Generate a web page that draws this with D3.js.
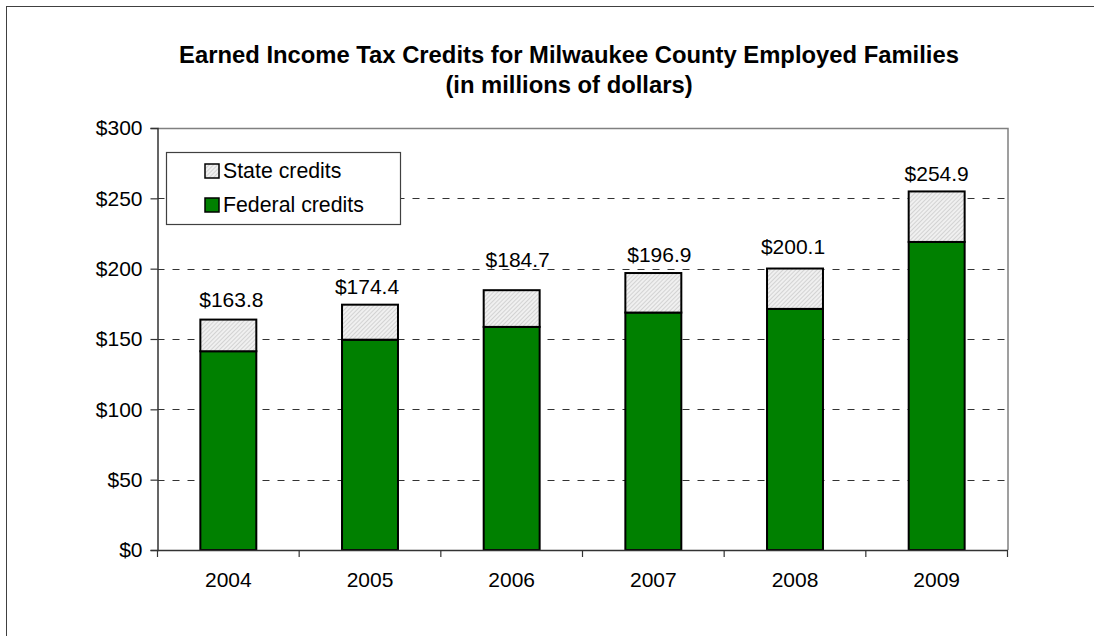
<!DOCTYPE html>
<html>
<head>
<meta charset="utf-8">
<script src="https://cdn.jsdelivr.net/npm/d3@7"></script>
<style>
  html, body { margin: 0; padding: 0; background: #fff; }
  svg { display: block; font-family: "Liberation Sans", Arial, sans-serif; }
</style>
</head>
<body>
<svg id="chart" width="1094" height="636"></svg>
<script>
// ---- Data ----
const years = ["2004", "2005", "2006", "2007", "2008", "2009"];
const federalCredits = [141.3, 149.5, 158.6, 168.8, 171.4, 219.0];
const totalCredits = [163.8, 174.4, 184.7, 196.9, 200.1, 254.9];
const stateCredits = totalCredits.map((t, i) => +(t - federalCredits[i]).toFixed(1));
const yTicks = [0, 50, 100, 150, 200, 250, 300];
const titleLines = ["Earned Income Tax Credits for Milwaukee County Employed Families", "(in millions of dollars)"];
const legendLabels = ["State credits", "Federal credits"];

// ---- Layout (label nudges mirror the hand-placed labels of the original) ----
const labelGap = [13, 11, 23, 11, 15, 10];
const labelDx = [3, -3, 6, 6, -2, 0];

const svg = d3.select("#chart");
const plot = { left: 157.5, right: 1007.5, top: 128, bottom: 550 };

// outer frame (only top/left visible in the original)
svg.append("rect").attr("x", 6.5).attr("y", 6.5).attr("width", 1200).attr("height", 800)
  .attr("fill", "none").attr("stroke", "#404040").attr("stroke-width", 1);

// hatch pattern
const defs = svg.append("defs");
const pat = defs.append("pattern").attr("id", "hatch").attr("patternUnits", "userSpaceOnUse")
  .attr("width", 3).attr("height", 3).attr("patternTransform", "rotate(45)");
pat.append("rect").attr("width", 3).attr("height", 3).attr("fill", "#f0f0f0");
pat.append("line").attr("x1", 0).attr("y1", 0).attr("x2", 0).attr("y2", 3)
  .attr("stroke", "#bcbcbc").attr("stroke-width", 1.1);

const x = d3.scaleBand().domain(years).range([plot.left, plot.right]).padding(0);
const y = d3.scaleLinear().domain([0, 300]).range([plot.bottom, plot.top]);
const barW = x.bandwidth() * 0.395;

// title
svg.append("g").selectAll("text").data(titleLines).join("text")
  .attr("x", 569).attr("y", (d, i) => 63 + i * 30)
  .attr("text-anchor", "middle").attr("font-weight", "bold").attr("font-size", 23.8)
  .attr("fill", "#000").text(d => d);

// gridlines
svg.append("g").selectAll("line").data(yTicks.filter(t => t > 0 && t < 300)).join("line")
  .attr("x1", plot.left).attr("x2", plot.right)
  .attr("y1", d => Math.round(y(d)) + 0.5).attr("y2", d => Math.round(y(d)) + 0.5)
  .attr("stroke", "#333").attr("stroke-width", 1).attr("stroke-dasharray", "7,8");

// plot area border (top, right)
svg.append("path")
  .attr("d", `M${plot.left},${plot.top + 0.5}H${plot.right + 0.5}V${plot.bottom}`)
  .attr("fill", "none").attr("stroke", "#808080").attr("stroke-width", 1.5);

// bars
const bars = svg.append("g");
years.forEach((yr, i) => {
  const cx = x(yr) + x.bandwidth() / 2;
  bars.append("rect")
    .attr("x", cx - barW / 2).attr("width", barW)
    .attr("y", y(federalCredits[i])).attr("height", y(0) - y(federalCredits[i]))
    .attr("fill", "#008000").attr("stroke", "#000").attr("stroke-width", 2);
  bars.append("rect")
    .attr("x", cx - barW / 2).attr("width", barW)
    .attr("y", y(totalCredits[i])).attr("height", y(federalCredits[i]) - y(totalCredits[i]))
    .attr("fill", "url(#hatch)").attr("stroke", "#000").attr("stroke-width", 2);
  svg.append("text")
    .attr("x", cx + labelDx[i]).attr("y", y(totalCredits[i]) - labelGap[i])
    .attr("text-anchor", "middle").attr("font-size", 21).attr("fill", "#000")
    .text("$" + d3.format(".1f")(totalCredits[i]));
});

// y axis
const yAxis = d3.axisLeft(y).tickValues(yTicks).tickSize(7).tickPadding(8)
  .tickFormat(d => "$" + d);
const gy = svg.append("g").attr("transform", `translate(${plot.left},0)`).call(yAxis);
gy.select(".domain").attr("stroke", "#333").attr("stroke-width", 1.5);
gy.selectAll(".tick line").attr("stroke", "#333").attr("stroke-width", 1.2);
gy.selectAll(".tick text").attr("font-size", 21).attr("fill", "#000")
  .attr("font-family", "Liberation Sans, Arial, sans-serif");

// x axis
const xAxis = d3.axisBottom(x).tickSize(0).tickPadding(22);
const gx = svg.append("g").attr("transform", `translate(0,${plot.bottom})`).call(xAxis);
gx.select(".domain").attr("stroke", "#333").attr("stroke-width", 1.5);
gx.selectAll(".tick text").attr("font-size", 21).attr("fill", "#000")
  .attr("font-family", "Liberation Sans, Arial, sans-serif");
// category boundary ticks
svg.append("g").selectAll("line").data(d3.range(years.length + 1)).join("line")
  .attr("x1", d => plot.left + d * x.step()).attr("x2", d => plot.left + d * x.step())
  .attr("y1", plot.bottom).attr("y2", plot.bottom + 7)
  .attr("stroke", "#333").attr("stroke-width", 1.2);

// legend
const lg = svg.append("g");
lg.append("rect").attr("x", 166.5).attr("y", 152.5).attr("width", 234).attr("height", 72)
  .attr("fill", "#fff").attr("stroke", "#404040").attr("stroke-width", 1.2);
const legendFills = ["url(#hatch)", "#008000"];
legendLabels.forEach((lab, i) => {
  const cy = 171 + i * 34;
  lg.append("rect").attr("x", 205).attr("y", cy - 7).attr("width", 14).attr("height", 14)
    .attr("fill", legendFills[i]).attr("stroke", "#000").attr("stroke-width", 1.5);
  lg.append("text").attr("x", 223).attr("y", cy + 7).attr("font-size", 21.3).attr("fill", "#000").text(lab);
});
</script>
</body>
</html>
